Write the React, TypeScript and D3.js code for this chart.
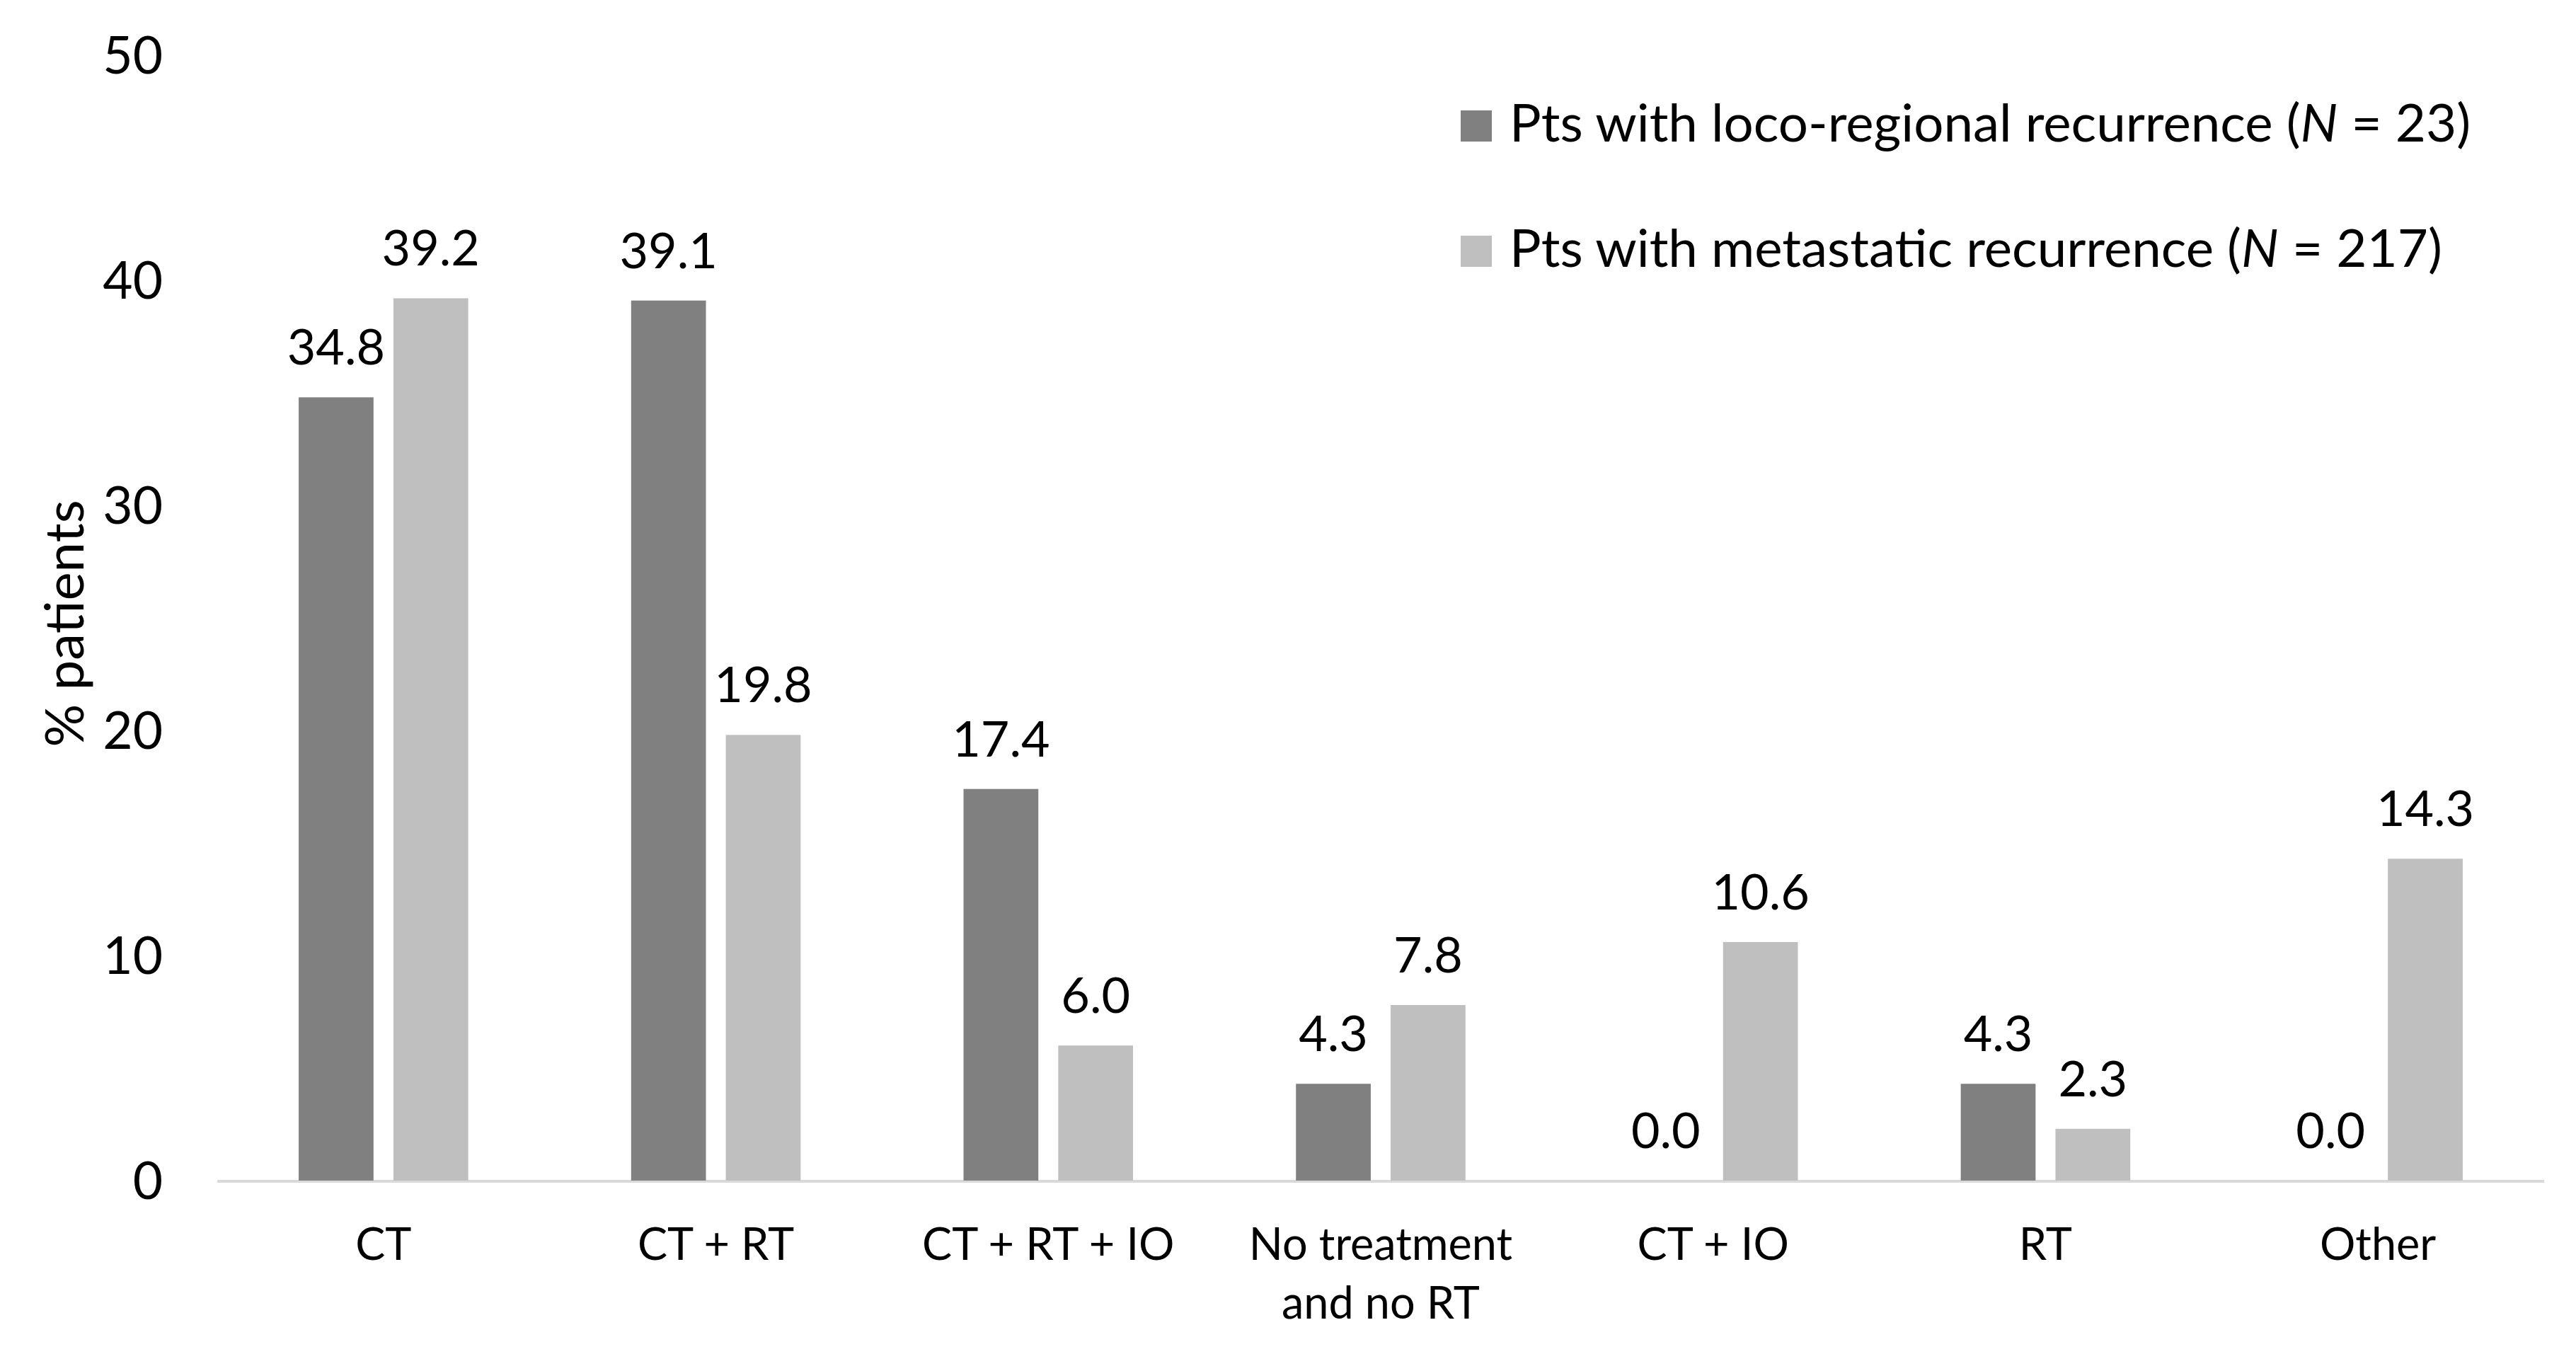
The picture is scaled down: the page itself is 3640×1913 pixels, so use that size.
import * as d3 from 'd3';

// Treatment after recurrence, % of patients
const categories = [
  ['CT'],
  ['CT + RT'],
  ['CT + RT + IO'],
  ['No treatment', 'and no RT'],
  ['CT + IO'],
  ['RT'],
  ['Other'],
];
const locoRegional = [34.8, 39.1, 17.4, 4.3, 0.0, 4.3, 0.0];
const metastatic = [39.2, 19.8, 6.0, 7.8, 10.6, 2.3, 14.3];
const seriesNames = ['loco', 'meta'];
const legendItems = [
  { key: 'loco', text: 'Pts with loco-regional recurrence (', n: '23' },
  { key: 'meta', text: 'Pts with metastatic recurrence (', n: '217' },
];
const yTicks = [0, 10, 20, 30, 40, 50];

const W = 3640;
const H = 1913;
const FONT = 'Lato, "Open Sans", sans-serif';
const colors: Record<string, string> = { loco: '#808080', meta: '#bfbfbf' };

export default function App() {
  const plot = { left: 307, right: 3595, top: 78, bottom: 1668 };

  const x0 = d3
    .scaleBand<number>()
    .domain(d3.range(categories.length))
    .range([plot.left, plot.right])
    .padding(0);

  const bw = x0.bandwidth();
  const x1 = d3
    .scaleBand<string>()
    .domain(seriesNames)
    .range([bw * 0.245, bw * 0.755])
    .paddingInner(0.21);

  const y = d3.scaleLinear().domain([0, 50]).range([plot.bottom, plot.top]);

  const values: Record<string, number[]> = { loco: locoRegional, meta: metastatic };

  return (
    <svg
      width={W}
      height={H}
      style={{ position: 'absolute', left: 0, top: 0, display: 'block', background: '#fff' }}
      fontFamily={FONT}
    >
      {/* y axis tick labels */}
      <g textAnchor="end" fontSize={73} fill="#000">
        {yTicks.map((t) => (
          <text key={t} x={230} y={y(t)} dy="0.36em">
            {t}
          </text>
        ))}
      </g>

      {/* y axis title */}
      <text
        transform={`translate(118, ${(plot.top + plot.bottom) / 2 + 8}) rotate(-90)`}
        textAnchor="middle"
        fontSize={76}
        fill="#000"
      >
        % patients
      </text>

      {/* baseline */}
      <line
        x1={plot.left}
        x2={plot.right}
        y1={y(0) + 1}
        y2={y(0) + 1}
        stroke="#d9d9d9"
        strokeWidth={4}
      />

      {/* bars + value labels */}
      {categories.map((_, i) => (
        <g key={i} transform={`translate(${x0(i)},0)`}>
          {seriesNames.map((s) => {
            const v = values[s][i];
            const bx = x1(s)!;
            return (
              <g key={s}>
                {v > 0 && (
                  <rect
                    x={bx}
                    y={y(v)}
                    width={x1.bandwidth()}
                    height={y(0) - y(v)}
                    fill={colors[s]}
                  />
                )}
                <text
                  x={bx + x1.bandwidth() / 2}
                  y={y(v) - 46}
                  textAnchor="middle"
                  fontSize={70}
                  fill="#000"
                >
                  {v.toFixed(1)}
                </text>
              </g>
            );
          })}
        </g>
      ))}

      {/* category labels */}
      <g textAnchor="middle" fontSize={63} fill="#000">
        {categories.map((lines, i) => (
          <text key={i} x={x0(i)! + bw / 2}>
            {lines.map((ln, j) => (
              <tspan key={j} x={x0(i)! + bw / 2} y={1780 + j * 83}>
                {ln}
              </tspan>
            ))}
          </text>
        ))}
      </g>

      {/* legend */}
      <g fontSize={74.5} fill="#000">
        {legendItems.map((it, i) => {
          const base = 200 + i * 177;
          return (
            <g key={it.key}>
              <rect x={2064} y={base - 44} width={44} height={44} fill={colors[it.key]} />
              <text x={2133} y={base}>
                {it.text}
                <tspan fontStyle="italic">N</tspan>
                {` = ${it.n})`}
              </text>
            </g>
          );
        })}
      </g>
    </svg>
  );
}
